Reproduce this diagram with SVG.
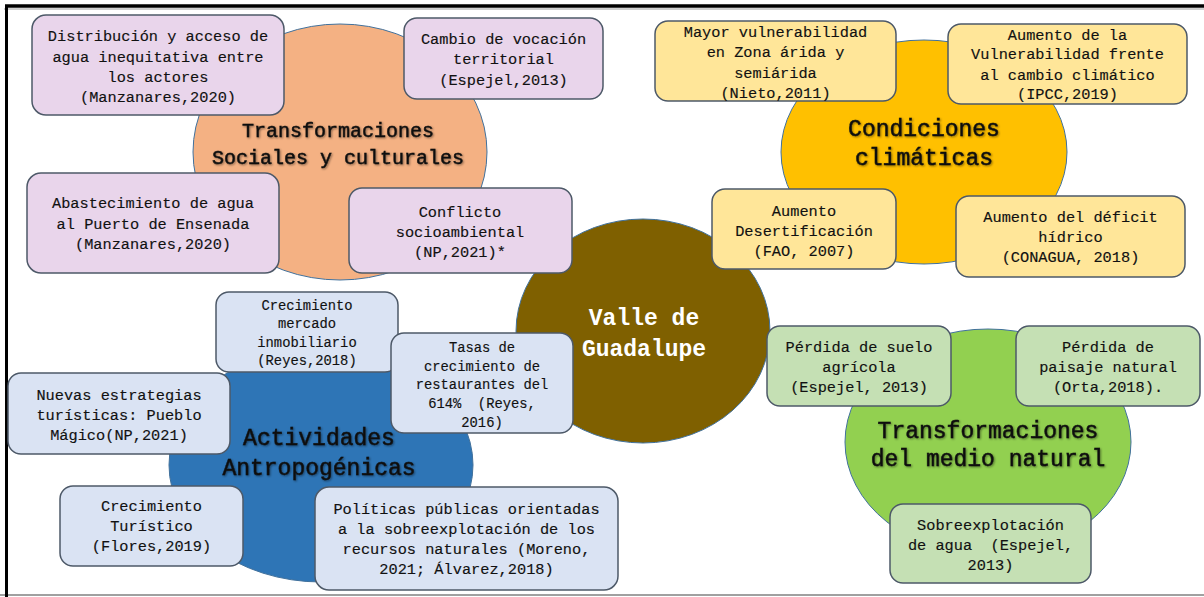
<svg xmlns="http://www.w3.org/2000/svg" width="1204" height="597" viewBox="0 0 1204 597">
<defs>
<filter id="sh" x="-10%" y="-30%" width="120%" height="160%">
<feDropShadow dx="1" dy="1" stdDeviation="0.9" flood-color="#000" flood-opacity="0.45"/>
</filter>
</defs>
<style>
.bx{stroke:#4d5968;stroke-width:1.5}
.pk{fill:#E9D5EB}.yl{fill:#FFE699}.bl{fill:#DAE3F3}.gr{fill:#C5E0B4}
.el{stroke:#41719C;stroke-width:1}
.t{font-family:"Liberation Mono","DejaVu Sans Mono",monospace;font-size:15.3px;fill:#111;stroke:#111;stroke-width:0.15;text-anchor:middle}
.ts{font-size:13.8px}
.h{font-family:"Liberation Mono","DejaVu Sans Mono",monospace;font-size:23px;fill:#111;stroke:#111;stroke-width:0.5;text-anchor:middle;filter:url(#sh)}
.h20{font-size:20px}
.v{font-family:"Liberation Mono","DejaVu Sans Mono",monospace;font-size:23px;font-weight:bold;fill:#fff;text-anchor:middle}
</style>
<rect width="1204" height="597" fill="#fff"/>
<line x1="4" y1="9" x2="1204" y2="9" stroke="#a0a0a0" stroke-width="1"/>
<line x1="0" y1="595" x2="1204" y2="595" stroke="#a0a0a0" stroke-width="2"/>
<line x1="5" y1="6" x2="1204" y2="6" stroke="#000" stroke-width="3.5"/>
<line x1="6.5" y1="5" x2="6.5" y2="597" stroke="#000" stroke-width="3"/>

<g id="sociales">
<ellipse class="el" cx="340" cy="152" rx="147" ry="128" fill="#F4B183"/>
<text class="h h20" x="338" y="137">Transformaciones</text>
<text class="h h20" x="338" y="164">Sociales y culturales</text>
</g>
<g id="climaticas">
<ellipse class="el" cx="924" cy="152" rx="143" ry="112" fill="#FFC000"/>
<text class="h" x="924" y="136">Condiciones</text>
<text class="h" x="924" y="165">climáticas</text>
</g>
<g id="antropogenicas">
<ellipse class="el" cx="321" cy="465" rx="152" ry="117" fill="#2E75B6"/>
<text class="h" x="319" y="445">Actividades</text>
<text class="h" x="319" y="475">Antropogénicas</text>
</g>
<g id="natural">
<ellipse class="el" cx="988" cy="442" rx="143" ry="113" fill="#92D050"/>
<text class="h" x="988" y="438">Transformaciones</text>
<text class="h" x="988" y="466">del medio natural</text>
</g>
<g id="valle">
<ellipse class="el" cx="643" cy="331" rx="127" ry="112" fill="#7F6000"/>
<text class="v" x="644" y="325">Valle de</text>
<text class="v" x="644" y="356">Guadalupe</text>
</g>

<g id="n-distribucion">
<rect class="bx pk" x="32" y="15" width="252" height="100" rx="14"/>
<text class="t" x="158" y="41">Distribución y acceso de</text>
<text class="t" x="158" y="62">agua inequitativa entre</text>
<text class="t" x="158" y="82">los actores</text>
<text class="t" x="158" y="102">(Manzanares,2020)</text>
</g>
<g id="n-abastecimiento">
<rect class="bx pk" x="27" y="173" width="252" height="100" rx="14"/>
<text class="t" x="153" y="208">Abastecimiento de agua</text>
<text class="t" x="153" y="229">al Puerto de Ensenada</text>
<text class="t" x="153" y="249">(Manzanares,2020)</text>
</g>
<g id="n-cambio">
<rect class="bx pk" x="404" y="18" width="199" height="81" rx="13"/>
<text class="t" x="503.5" y="44">Cambio de vocación</text>
<text class="t" x="503.5" y="64">territorial</text>
<text class="t" x="503.5" y="85">(Espejel,2013)</text>
</g>
<g id="n-conflicto">
<rect class="bx pk" x="349" y="188" width="223" height="85" rx="13"/>
<text class="t" x="460" y="217">Conflicto</text>
<text class="t" x="460" y="237">socioambiental</text>
<text class="t" x="460" y="257">(NP,2021)*</text>
</g>
<g id="n-mayor">
<rect class="bx yl" x="655" y="21" width="241" height="80" rx="13"/>
<text class="t" x="775.5" y="37">Mayor vulnerabilidad</text>
<text class="t" x="775.5" y="57">en Zona árida y</text>
<text class="t" x="775.5" y="78">semiárida</text>
<text class="t" x="775.5" y="98">(Nieto,2011)</text>
</g>
<g id="n-aumento-vuln">
<rect class="bx yl" x="948" y="24" width="239" height="80" rx="13"/>
<text class="t" x="1067.5" y="40">Aumento de la</text>
<text class="t" x="1067.5" y="59">Vulnerabilidad frente</text>
<text class="t" x="1067.5" y="80">al cambio climático</text>
<text class="t" x="1067.5" y="99">(IPCC,2019)</text>
</g>
<g id="n-desertificacion">
<rect class="bx yl" x="712" y="189" width="184" height="80" rx="13"/>
<text class="t" x="804" y="216">Aumento</text>
<text class="t" x="804" y="236">Desertificación</text>
<text class="t" x="804" y="256">(FAO, 2007)</text>
</g>
<g id="n-deficit">
<rect class="bx yl" x="956" y="196" width="229" height="81" rx="13"/>
<text class="t" x="1070.5" y="222">Aumento del déficit</text>
<text class="t" x="1070.5" y="242">hídrico</text>
<text class="t" x="1070.5" y="262">(CONAGUA, 2018)</text>
</g>
<g id="n-inmobiliario">
<rect class="bx bl" x="216" y="292" width="182" height="80" rx="13"/>
<text class="t ts" x="307" y="310">Crecimiento</text>
<text class="t ts" x="307" y="328">mercado</text>
<text class="t ts" x="307" y="347">inmobiliario</text>
<text class="t ts" x="307" y="365">(Reyes,2018)</text>
</g>
<g id="n-nuevas">
<rect class="bx bl" x="8" y="373" width="222" height="81" rx="13"/>
<text class="t" x="119" y="400">Nuevas estrategias</text>
<text class="t" x="119" y="420">turísticas: Pueblo</text>
<text class="t" x="119" y="440">Mágico(NP,2021)</text>
</g>
<g id="n-tasas">
<rect class="bx bl" x="391" y="333" width="182" height="100" rx="13"/>
<text class="t ts" x="482" y="352">Tasas de</text>
<text class="t ts" x="482" y="371">crecimiento de</text>
<text class="t ts" x="482" y="389">restaurantes del</text>
<text class="t ts" x="482" y="408" xml:space="preserve">614%  (Reyes,</text>
<text class="t ts" x="482" y="427">2016)</text>
</g>
<g id="n-turistico">
<rect class="bx bl" x="60" y="486" width="183" height="80" rx="13"/>
<text class="t" x="151.5" y="511">Crecimiento</text>
<text class="t" x="151.5" y="531">Turístico</text>
<text class="t" x="151.5" y="551">(Flores,2019)</text>
</g>
<g id="n-politicas">
<rect class="bx bl" x="315" y="487" width="303" height="103" rx="14"/>
<text class="t" x="466.5" y="514">Políticas públicas orientadas</text>
<text class="t" x="466.5" y="534">a la sobreexplotación de los</text>
<text class="t" x="466.5" y="554">recursos naturales (Moreno,</text>
<text class="t" x="466.5" y="574">2021; Álvarez,2018)</text>
</g>
<g id="n-suelo">
<rect class="bx gr" x="767" y="326" width="184" height="80" rx="13"/>
<text class="t" x="859" y="352">Pérdida de suelo</text>
<text class="t" x="859" y="372">agrícola</text>
<text class="t" x="859" y="392">(Espejel, 2013)</text>
</g>
<g id="n-paisaje">
<rect class="bx gr" x="1016" y="326" width="184" height="80" rx="13"/>
<text class="t" x="1108" y="352">Pérdida de</text>
<text class="t" x="1108" y="372">paisaje natural</text>
<text class="t" x="1108" y="392">(Orta,2018).</text>
</g>
<g id="n-sobreexplotacion">
<rect class="bx gr" x="890" y="504" width="201" height="79" rx="13"/>
<text class="t" x="990.5" y="530">Sobreexplotación</text>
<text class="t" x="990.5" y="550" xml:space="preserve">de agua  (Espejel,</text>
<text class="t" x="990.5" y="570">2013)</text>
</g>
<g id="connectors"/>
</svg>
